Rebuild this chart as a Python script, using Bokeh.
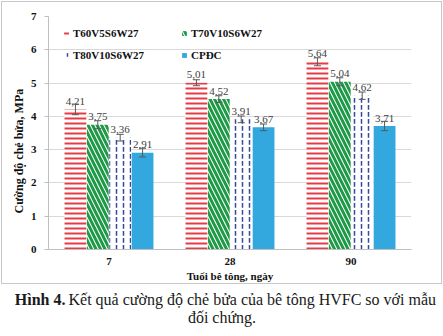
import numpy as np
from bokeh.plotting import figure
from bokeh.models import (ColumnDataSource, FactorRange, Range1d, Whisker, TeeHead,
                          Legend, LegendItem, FixedTicker, Title)
from bokeh.transform import dodge
from bokeh.core.properties import value
from bokeh.embed import file_html
from bokeh.resources import INLINE

# ---------------- data ----------------
ages = ["7", "28", "90"]
series = ["T60V5S6W27", "T70V10S6W27", "T80V10S6W27", "CPĐC"]
t60 = [4.21, 5.01, 5.64]
t70 = [3.75, 4.52, 5.04]
t80 = [3.36, 3.91, 4.62]
cpdc = [2.91, 3.67, 3.71]
err_t60 = [0.16, 0.09, 0.12]
err_t70 = [0.12, 0.10, 0.12]
err_t80 = [0.10, 0.10, 0.11]
err_cpdc = [0.13, 0.10, 0.14]
y_ticks = [0, 1, 2, 3, 4, 5, 6, 7]
x_title = "Tuổi bê tông, ngày"
y_title = "Cường độ chẻ bửa, MPa"
caption_bold = "Hình 4."
caption_1 = "Kết quả cường độ chẻ bửa của bê tông HVFC so với mẫu"
caption_2 = "đối chứng."

FONT = "Liberation Serif"
FONT_STACK = "Liberation Serif, Times New Roman, Times, serif"
W = 443
CH = 285          # chart figure height
CAP_H = 336 - CH  # caption figure height
L, R, T, B = 48, 32, 16, 36
FW, FH = W - L - R, CH - T - B
YMAX = 7

keys = ["t60", "t70", "t80", "cpdc"]
vals = [t60, t70, t80, cpdc]
errs = [err_t60, err_t70, err_t80, err_cpdc]
data = {"age": ages}
for k, v, e in zip(keys, vals, errs):
    v = np.array(v)
    e = np.array(e)
    data[k] = v
    data["up_" + k] = v + e
    data["lo_" + k] = v - e
    data["lbl_" + k] = [f"{x:.2f}".replace(".", ",") for x in v]
    data["ly_" + k] = v + 8 / (FH / YMAX)
src = ColumnDataSource(data)

p = figure(width=W, height=CH, x_range=FactorRange(factors=ages, range_padding=0),
           y_range=Range1d(0, YMAX), output_backend="svg", toolbar_location=None,
           min_border_left=L, min_border_right=R, min_border_top=T, min_border_bottom=B)
p.outline_line_color = None
p.background_fill_color = "white"
p.border_fill_alpha = 0
p.styles = {"outline": "1px solid #c8c8c8", "outline-offset": "-2px"}

bar_w = 0.18
offsets = [-0.2775, -0.0925, 0.0925, 0.2775]
styles = [
    dict(fill_color="white", hatch_pattern="horizontal_line", hatch_color="#e63a44",
         hatch_scale=5, hatch_weight=2),
    dict(fill_color="white", hatch_pattern="left_diagonal_line", hatch_color="#1c9a45",
         hatch_scale=9, hatch_weight=3),
    dict(fill_color="white", hatch_pattern="vertical_dash", hatch_color="#35489c",
         hatch_scale=7, hatch_weight=1.5),
    dict(fill_color="#33a8df"),
]

renderers = []
for k, off, st in zip(keys, offsets, styles):
    r = p.vbar(x=dodge("age", off, range=p.x_range), top=k, width=bar_w, source=src,
               line_color=None, **st)
    renderers.append(r)

for k, off in zip(keys, offsets):
    p.text(x=dodge("age", off, range=p.x_range), y="ly_" + k, text="lbl_" + k, source=src,
           text_font=value(FONT_STACK), text_font_size="11px", text_color="#404040",
           text_align="center", text_baseline="alphabetic")
    w = Whisker(source=src, base=dodge("age", off, range=p.x_range), upper="up_" + k,
                lower="lo_" + k, line_color="#595959", line_width=1,
                upper_head=TeeHead(size=7, line_color="#595959", line_width=1),
                lower_head=TeeHead(size=7, line_color="#595959", line_width=1))
    w.level = "overlay"
    p.add_layout(w)


def make_legend(items, loc):
    return Legend(items=items, location=loc, glyph_width=6, glyph_height=6,
                  label_standoff=4, label_text_font=FONT, label_text_font_style="bold",
                  label_text_font_size="11px", label_text_color="#111111",
                  label_height=16, spacing=6, padding=0, margin=0,
                  border_line_color=None, background_fill_alpha=0)


leg1 = make_legend([LegendItem(label=series[0], renderers=[renderers[0]]),
                    LegendItem(label=series[2], renderers=[renderers[2]])], (15, 186))
leg2 = make_legend([LegendItem(label=series[1], renderers=[renderers[1]]),
                    LegendItem(label=series[3], renderers=[renderers[3]])], (133, 186))
p.add_layout(leg1)
p.add_layout(leg2)

# axes
p.xgrid.grid_line_color = None
p.ygrid.grid_line_color = "#d9d9d9"
p.ygrid.ticker = FixedTicker(ticks=y_ticks)
p.yaxis.ticker = FixedTicker(ticks=y_ticks)
for ax in (p.xaxis, p.yaxis):
    ax.axis_line_color = "#bfbfbf"
    ax.major_label_text_font = FONT
    ax.major_label_text_font_style = "bold"
    ax.major_label_text_font_size = "11px"
    ax.major_label_text_color = "#111111"
    ax.minor_tick_line_color = None
p.yaxis.major_tick_line_color = "#bfbfbf"
p.yaxis.major_tick_out = 4
p.yaxis.major_tick_in = 0
p.yaxis.major_label_standoff = 8
p.xaxis.major_tick_line_color = None
p.xaxis.major_tick_out = 0
p.xaxis.major_tick_in = 0
p.xaxis.major_label_standoff = 8
p.xaxis.axis_label = x_title
p.xaxis.axis_label_text_font = FONT
p.xaxis.axis_label_text_font_style = "bold"
p.xaxis.axis_label_text_font_size = "11px"
p.xaxis.axis_label_text_color = "#111111"
p.xaxis.axis_label_standoff = 2

# y title as a left Title; starts 36px above the frame bottom as in the reference
p.add_layout(Title(text=y_title, align="left", offset=36, text_font=FONT,
                   text_font_style="bold", text_font_size="12px", text_color="#111111",
                   standoff=4), "left")

# ---------------- caption figure (separate root, full-width frame) ----------------
cap = figure(width=W, height=CAP_H, x_range=Range1d(0, W), y_range=Range1d(CAP_H, 0),
             output_backend="svg", toolbar_location=None, x_axis_type=None,
             y_axis_type=None, min_border=0)
cap.outline_line_color = None
cap.grid.visible = False
cap.background_fill_color = "white"
cap.border_fill_color = "white"

line1_y = 298.5 - CH
line2_y = 316.5 - CH
cap.text(x=[65], y=[line1_y], text=[caption_bold], text_align="right",
         text_baseline="middle", text_font=value(FONT_STACK), text_font_style="bold",
         text_font_size="16px", text_color="#1a1a1a")
cap.text(x=[68], y=[line1_y], text=[caption_1], text_align="left",
         text_baseline="middle", text_font=value(FONT_STACK),
         text_font_size="16px", text_color="#1a1a1a")
cap.text(x=[W / 2], y=[line2_y], text=[caption_2], text_align="center",
         text_baseline="middle", text_font=value(FONT_STACK),
         text_font_size="16px", text_color="#1a1a1a")

open("out.html", "w").write(file_html([p, cap], INLINE))
